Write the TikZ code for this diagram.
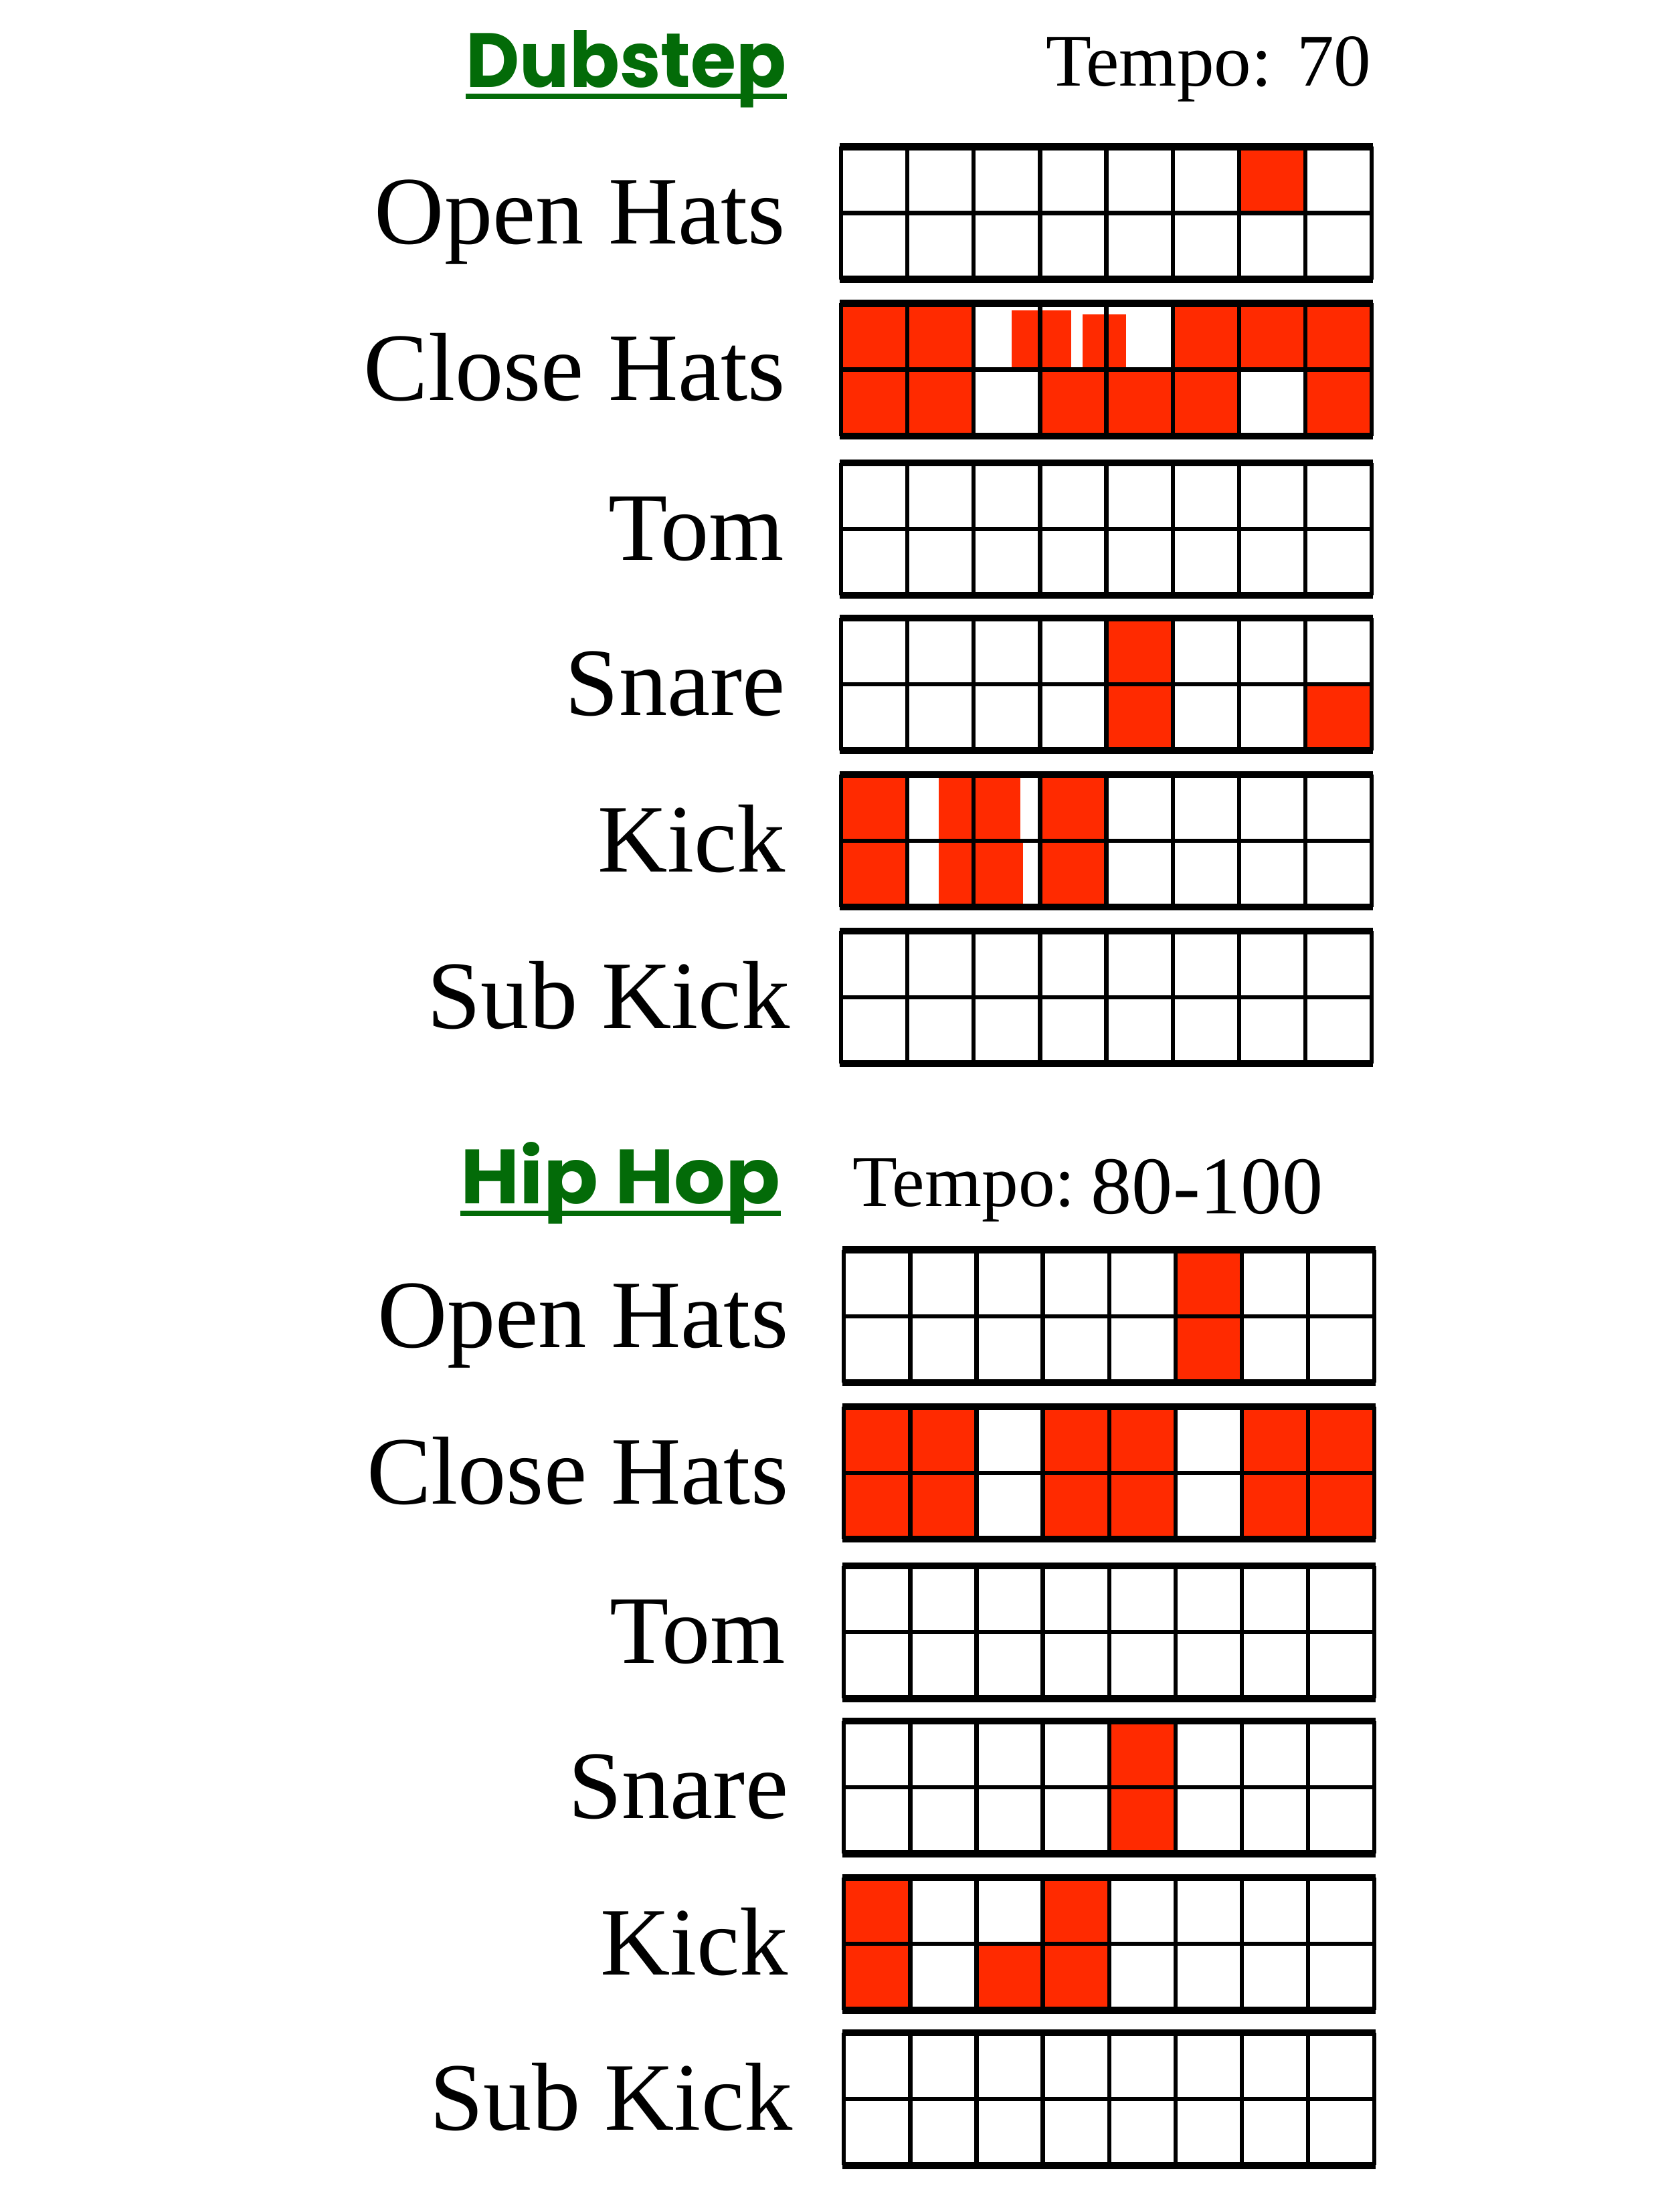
\documentclass[tikz,border=0pt]{standalone}
\usepackage{fontspec}
\setmainfont{Liberation Serif}
\newfontfamily\titlefont{Poppins}
\usepackage{xcolor}
\usepackage{tikz}
\usetikzlibrary{positioning}
\definecolor{padred}{RGB}{255, 42, 0}
\definecolor{titlegreen}{RGB}{3, 107, 8}

\tikzset{
    pad/.style={fill=padred},
    gridline/.style={line width=1.7pt},
    edgeline/.style={line width=2.8pt},
    drumlabel/.style={anchor=base east, inner sep=0pt, font=\fontsize{39}{44}\selectfont},
    genretitle/.style={anchor=base west, inner sep=0pt, text=titlegreen, font=\titlefont\bfseries\fontsize{31}{36}\selectfont},
    tempotext/.style={inner sep=0pt, font=\fontsize{30}{34}\selectfont}
}

\begin{document}
\begin{tikzpicture}[x=0.02cm, y=-0.02cm]
    \useasboundingbox (0,0) rectangle (1176,1568);

    % Titles
    \node[genretitle, xscale=0.96] (dubtitle) at (330,62) {Dubstep};
    \draw[titlegreen, line width=2.2pt] ([yshift=-3.6pt]dubtitle.base west) -- ([yshift=-3.6pt]dubtitle.base east);
    \node[tempotext, anchor=base east] (dubtempo) at (972,61) {Tempo: 70};

    \node[genretitle, xscale=1.05] (hiptitle) at (326,853) {Hip Hop};
    \draw[titlegreen, line width=2.2pt] ([yshift=-4pt]hiptitle.base west) -- ([yshift=-4pt]hiptitle.base east);
    \node[tempotext, anchor=base west, font=\fontsize{29.5}{34}\selectfont] (hiptempo) at (604,855) {Tempo:};
    \node[tempotext, base right=6pt of hiptempo, yshift=-3pt, font=\fontsize{33}{38}\selectfont] (hipbpm) {80-100};

    % Dubstep labels
    \foreach \top/\lab/\nm/\rx in {104/Open Hats/open/557, 215/Close Hats/close/557, 328/Tom/tom/556, 438/Snare/snare/557, 549/Kick/kick/557, 660/Sub Kick/sub/560} {
        \node[drumlabel] (dub\nm) at (\rx,\top+69) {\lab};
    }

    % Hip Hop labels
    \foreach \top/\lab/\nm/\rx in {886/Open Hats/open/559, 997/Close Hats/close/559, 1110/Tom/tom/557, 1220/Snare/snare/559, 1331/Kick/kick/559, 1441/Sub Kick/sub/562} {
        \node[drumlabel] (hip\nm) at (\rx,\top+69) {\lab};
    }

    % Dubstep pads
    \foreach \top/\c/\r in {104/6/0,
        215/0/0, 215/1/0, 215/5/0, 215/6/0, 215/7/0,
        215/0/1, 215/1/1, 215/3/1, 215/4/1, 215/5/1, 215/7/1,
        438/4/0, 438/4/1, 438/7/1,
        549/0/0, 549/0/1, 549/3/0, 549/3/1} {
        \fill[pad] (596+\c*47,\top+\r*47) rectangle ++(47,47);
    }
    % half hits
    \fill[pad] (717,220) rectangle (759,262);
    \fill[pad] (767,223) rectangle (798,262);
    \fill[pad] (665,549) rectangle (723,596);
    \fill[pad] (665,596) rectangle (725,643);

    % Hip Hop pads
    \foreach \top/\c/\r in {886/5/0, 886/5/1,
        997/0/0, 997/1/0, 997/3/0, 997/4/0, 997/6/0, 997/7/0,
        997/0/1, 997/1/1, 997/3/1, 997/4/1, 997/6/1, 997/7/1,
        1220/4/0, 1220/4/1,
        1331/0/0, 1331/3/0, 1331/0/1, 1331/2/1, 1331/3/1} {
        \fill[pad] (598+\c*47,\top+\r*47) rectangle ++(47,47);
    }

    % Grids
    \foreach \x/\top in {596/104, 596/215, 596/328, 596/438, 596/549, 596/660,
        598/886, 598/997, 598/1110, 598/1220, 598/1331, 598/1441} {
        \foreach \i in {0,...,8} {
            \draw[gridline] (\x+\i*47,\top) -- ++(0,94);
        }
        \draw[gridline] (\x,\top+47) -- ++(376,0);
        \draw[edgeline] (\x-1,\top) -- ++(378,0);
        \draw[edgeline] (\x-1,\top+94) -- ++(378,0);
    }
\end{tikzpicture}
\end{document}
